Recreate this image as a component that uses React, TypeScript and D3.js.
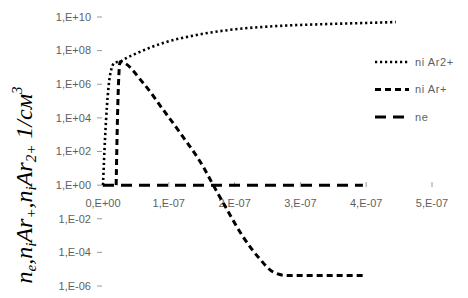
import React from "react";
import * as d3 from "d3";

const W = 468;
const H = 298;

// time in seconds
const tAr2: number[] = [0, 0.03e-7, 0.06e-7, 0.11e-7, 0.18e-7, 0.26e-7, 0.3e-7, 0.52e-7, 0.91e-7, 1.42e-7, 1.92e-7, 2.64e-7, 3.3e-7, 3.97e-7, 4.45e-7];
const niAr2: number[] = [1, 5e2, 5e4, 4e6, 2e7, 2.2e7, 2.75e7, 7.2e7, 2.8e8, 8.5e8, 1.7e9, 2.9e9, 3.7e9, 4.4e9, 5e9];

const tAr1: number[] = [0.2e-7, 0.22e-7, 0.24e-7, 0.26e-7, 0.61e-7, 0.91e-7, 1.21e-7, 1.52e-7, 1.67e-7, 1.88e-7, 2.12e-7, 2.38e-7, 2.58e-7, 2.79e-7, 3.2e-7, 3.95e-7];
const niAr1: number[] = [1, 1e4, 3e6, 2.2e7, 1.2e6, 3.2e4, 8e2, 13, 1.1, 3.8e-2, 9.5e-4, 4.2e-5, 7e-6, 4.2e-6, 4.2e-6, 4.2e-6];

const tNe: number[] = [0, 3.95e-7];
const ne: number[] = [1, 1];

const xTicks: number[] = [0, 1e-7, 2e-7, 3e-7, 4e-7, 5e-7];
const yTicks: number[] = [1e10, 1e8, 1e6, 1e4, 1e2, 1, 1e-2, 1e-4, 1e-6];

const legendLabels: string[] = ["ni Ar2+", "ni Ar+", "ne"];

const fmtExp = (e: number) => (e >= 0 ? "+" : "-") + String(Math.abs(e)).padStart(2, "0");
const fmtY = (v: number) => "1,E" + fmtExp(Math.round(Math.log10(v)));
const fmtX = (v: number) => {
  if (v === 0) return "0,E+00";
  const e = Math.floor(Math.log10(v) + 1e-9);
  const m = Math.round(v / Math.pow(10, e));
  return m + ",E" + fmtExp(e);
};

export default function App() {
  const x = d3.scaleLinear().domain([0, 5e-7]).range([103, 432]);
  const y = d3.scaleLog().domain([1e-6, 1e10]).range([286, 17]);

  const line = d3
    .line<[number, number]>()
    .x((d) => x(d[0]))
    .y((d) => y(d[1]))
    .curve(d3.curveMonotoneX);

  const zip = (a: number[], b: number[]) => a.map((v, i) => [v, b[i]] as [number, number]);

  const styles = [
    { dash: "2.2,2.8", w: 2.6, cap: "butt" },
    { dash: "6,4", w: 3, cap: "butt" },
    { dash: "11,7", w: 3, cap: "butt" },
  ];
  const series = [zip(tAr2, niAr2), zip(tAr1, niAr1), zip(tNe, ne)];

  const labelColor = "#5f5f5f";
  const font = "'Liberation Sans', Arial, sans-serif";

  return (
    <svg width={W} height={H} style={{ position: "absolute", left: 0, top: 0, background: "#fff" }}>
      <rect x={0} y={0} width={W} height={H} fill="#fff" />
      {/* y ticks and labels */}
      {yTicks.map((v) => (
        <g key={"y" + v}>
          <line x1={97} x2={102} y1={y(v)} y2={y(v)} stroke="#9a9a9a" strokeWidth={1} />
          <text x={91} y={y(v)} dy="0.35em" textAnchor="end" fontSize={11} fontFamily={font} fill={labelColor}>
            {fmtY(v)}
          </text>
        </g>
      ))}
      {/* x ticks and labels */}
      {xTicks.map((v) => (
        <g key={"x" + v}>
          <line x1={x(v)} x2={x(v)} y1={y(1) - 3} y2={y(1) + 2} stroke="#9a9a9a" strokeWidth={1} />
          <text x={x(v)} y={y(1) + 18} dy="0.35em" textAnchor="middle" fontSize={11} fontFamily={font} fill={labelColor}>
            {fmtX(v)}
          </text>
        </g>
      ))}
      {/* series */}
      {series.map((s, i) => (
        <path
          key={"s" + i}
          d={line(s) || ""}
          fill="none"
          stroke="#000"
          strokeWidth={styles[i].w}
          strokeDasharray={styles[i].dash}
          strokeLinecap={styles[i].cap as any}
        />
      ))}
      {/* legend */}
      {legendLabels.map((lab, i) => {
        const ly = 62 + i * 27.5;
        return (
          <g key={"l" + i}>
            <line x1={375} x2={409} y1={ly} y2={ly} stroke="#000" strokeWidth={styles[i].w} strokeDasharray={styles[i].dash} />
            <text x={415} y={ly} dy="0.35em" fontSize={11} letterSpacing={0.6} fontFamily={font} fill={labelColor}>
              {lab}
            </text>
          </g>
        );
      })}
      {/* y axis title */}
      <text
        transform="translate(32,185) rotate(-90)"
        textAnchor="middle"
        fontFamily="'Liberation Serif', 'Times New Roman', serif"
        fontStyle="italic"
        fontSize={24}
        fill="#000"
      >
        <tspan>n</tspan>
        <tspan fontSize={15} dy={4}>e</tspan>
        <tspan dy={-4}>,n</tspan>
        <tspan fontSize={15} dy={4}>i</tspan>
        <tspan dy={-4}>Ar</tspan>
        <tspan fontSize={15} dy={4}>+</tspan>
        <tspan dy={-4}>,n</tspan>
        <tspan fontSize={15} dy={4}>i</tspan>
        <tspan dy={-4}>Ar</tspan>
        <tspan fontSize={15} dy={4}>2+</tspan>
        <tspan dy={-4}> 1/см</tspan>
        <tspan fontSize={15} dy={-10}>3</tspan>
      </text>
    </svg>
  );
}
